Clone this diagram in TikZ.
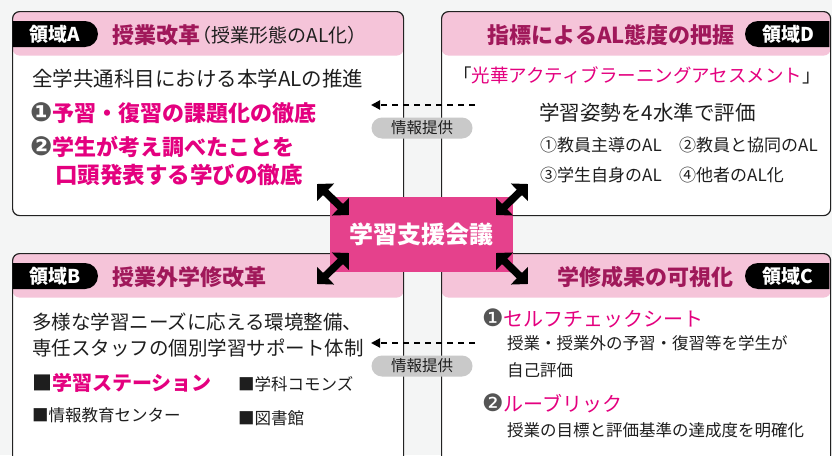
\documentclass[tikz,border=0pt]{standalone}
\usepackage{fontspec}
\setmainfont{Noto Sans CJK JP}
\newfontfamily\symfont{DejaVu Sans}
\usetikzlibrary{arrows.meta}
\definecolor{bg}{HTML}{F4F5F5}
\definecolor{hdr}{HTML}{F5C4D9}
\definecolor{ttl}{HTML}{A0185A}
\definecolor{mag}{HTML}{E4007F}
\definecolor{cen}{HTML}{E5418C}
\definecolor{pillc}{HTML}{C9C9C9}
\definecolor{numg}{HTML}{555555}
\definecolor{boxline}{HTML}{222222}
\definecolor{txt}{HTML}{1E1E1E}
\newcommand\fsz[1]{\fontsize{#1}{#1}\selectfont}
\newcommand\nA{{\symfont\color{numg}\scalebox{1.2}{❶}}}
\newcommand\nB{{\symfont\color{numg}\scalebox{1.2}{❷}}}
\tikzset{
  regionbox/.style={draw=boxline, line width=1.2pt, fill=white, rounded corners=7pt,
    inner sep=0pt, anchor=north west,
    path picture={\fill[hdr] (path picture bounding box.north west) rectangle ([yshift=-44pt]path picture bounding box.north east);}},
  tablabel/.style={text=white, font=\bfseries\fsz{19}, inner sep=0pt},
  titletext/.style={text=ttl, font=\bfseries\fsz{22}, inner sep=0pt},
  bodytext/.style={text=txt, inner sep=0pt, anchor=west},
  pillbox/.style={fill=pillc, rounded corners=10.5pt, minimum width=101pt, minimum height=21pt, inner sep=0pt, text=txt, font=\fsz{15.5}},
  dblarrow/.style={line width=7.5pt, {Triangle[length=12pt,width=24pt]}-{Triangle[length=12pt,width=24pt]}},
  infoarrow/.style={line width=2pt, dash pattern=on 6pt off 5pt, -{Triangle[length=9pt,width=9pt]}},
}
\begin{document}
\begin{tikzpicture}[x=1pt,y=-1pt]
\clip (0,0) rectangle (832,455);
\fill[bg] (0,0) rectangle (832,455);

% region boxes
\node[regionbox, minimum width=391pt, minimum height=204pt] (boxA) at (12,11) {};
\node[regionbox, minimum width=389pt, minimum height=204pt] (boxD) at (441,11) {};
\node[regionbox, minimum width=391pt, minimum height=220pt] (boxB) at (12,253) {};
\node[regionbox, minimum width=389pt, minimum height=220pt] (boxC) at (441,253) {};

% black tabs
\begin{scope}
  \clip (12.6,0) rectangle (832,455);
  \fill[black, rounded corners=13pt] (0,21) rectangle (98,47);
  \fill[black, rounded corners=13pt] (0,263) rectangle (98,289);
\end{scope}
\begin{scope}
  \clip (0,0) rectangle (829.4,455);
  \fill[black, rounded corners=13pt] (745,21) rectangle (850,47);
  \fill[black, rounded corners=13pt] (745,263) rectangle (850,289);
\end{scope}

% center box
\node[fill=cen, minimum width=183pt, minimum height=75pt, inner sep=0pt, text=white, font=\bfseries\fsz{24}] (center) at (421.5,234.5) {学習支援会議};

% double arrows
\coordinate (tlA) at (317,184); \coordinate (tlB) at (349,215);
\coordinate (trA) at (528,184); \coordinate (trB) at (496,215);
\coordinate (blA) at (317,284); \coordinate (blB) at (349,253);
\coordinate (brA) at (528,284); \coordinate (brB) at (496,253);
\draw[dblarrow] (tlA) -- (tlB);
\draw[dblarrow] (trA) -- (trB);
\draw[dblarrow] (blA) -- (blB);
\draw[dblarrow] (brA) -- (brB);

% info arrows
\coordinate (i1s) at (475,105); \coordinate (i1e) at (371,105);
\coordinate (i2s) at (475,343); \coordinate (i2e) at (371,343);
\draw[infoarrow] (i1s) -- (i1e);
\draw[infoarrow] (i2s) -- (i2e);
\node[pillbox] (pill1) at (422,128) {情報提供};
\node[pillbox] (pill2) at (422,366) {情報提供};

% ---- Region A
\node[tablabel] (tabA) at (55,34) {領域A};
\node[titletext, anchor=west] (titleA) at (112,35) {授業改革};
\node[bodytext, font=\fsz{19}] (subA) at (titleA.east) {\hspace{-0.42em}（授業形態のAL化）};
\node[bodytext, font=\fsz{20.5}] (a1) at (32,79) {全学共通科目における本学ALの推進};
\node[bodytext, font=\bfseries\fsz{22}, text=mag] (a2) at (30,113) {\nA 予習・復習の課題化の徹底};
\node[bodytext, font=\bfseries\fsz{22}, text=mag] (a3) at (30,147) {\nB 学生が考え調べたことを};
\node[bodytext, font=\bfseries\fsz{22.5}, text=mag] (a4) at (55,175) {口頭発表する学びの徹底};

% ---- Region D
\node[tablabel] (tabD) at (788,34) {領域D};
\node[titletext, anchor=east] (titleD) at (735,35) {指標によるAL態度の把握};
\node[bodytext, font=\fsz{18.5}] (d1) at (453,75) {「\textcolor{mag}{光華アクティブラーニングアセスメント}」};
\node[bodytext, font=\fsz{20.5}] (d2) at (539,113) {学習姿勢を4水準で評価};
\node[bodytext, font=\fsz{17}] (d3) at (540,145) {①教員主導のAL};
\node[bodytext, font=\fsz{17}] (d4) at (679,145) {②教員と協同のAL};
\node[bodytext, font=\fsz{17}] (d5) at (540,175) {③学生自身のAL};
\node[bodytext, font=\fsz{17}] (d6) at (679,175) {④他者のAL化};

% ---- Region B
\node[tablabel] (tabB) at (55,276) {領域B};
\node[titletext, anchor=west] (titleB) at (112,277) {授業外学修改革};
\node[bodytext, font=\fsz{19.5}] (b1) at (32,322) {多様な学習ニーズに応える環境整備、};
\node[bodytext, font=\fsz{19.5}] (b2) at (32,348) {専任スタッフの個別学習サポート体制};
\node[bodytext, font=\fsz{20}] (b3) at (32,383) {■\textcolor{mag}{\bfseries 学習ステーション}};
\node[bodytext, font=\fsz{16.5}] (b4) at (238,384) {■学科コモンズ};
\node[bodytext, font=\fsz{16.5}] (b5) at (32,415) {■情報教育センター};
\node[bodytext, font=\fsz{16.5}] (b6) at (238,418) {■図書館};

% ---- Region C
\node[tablabel] (tabC) at (788,276) {領域C};
\node[titletext, anchor=east] (titleC) at (734,277) {学修成果の可視化};
\node[bodytext, font=\fsz{20}, text=mag] (c1) at (482,318) {\nA セルフチェックシート};
\node[bodytext, font=\fsz{16.5}] (c2) at (507,343) {授業・授業外の予習・復習等を学生が};
\node[bodytext, font=\fsz{16.5}] (c3) at (507,370) {自己評価};
\node[bodytext, font=\fsz{20}, text=mag] (c4) at (482,403) {\nB ルーブリック};
\node[bodytext, font=\fsz{16.5}] (c5) at (507,430) {授業の目標と評価基準の達成度を明確化};
\end{tikzpicture}
\end{document}
